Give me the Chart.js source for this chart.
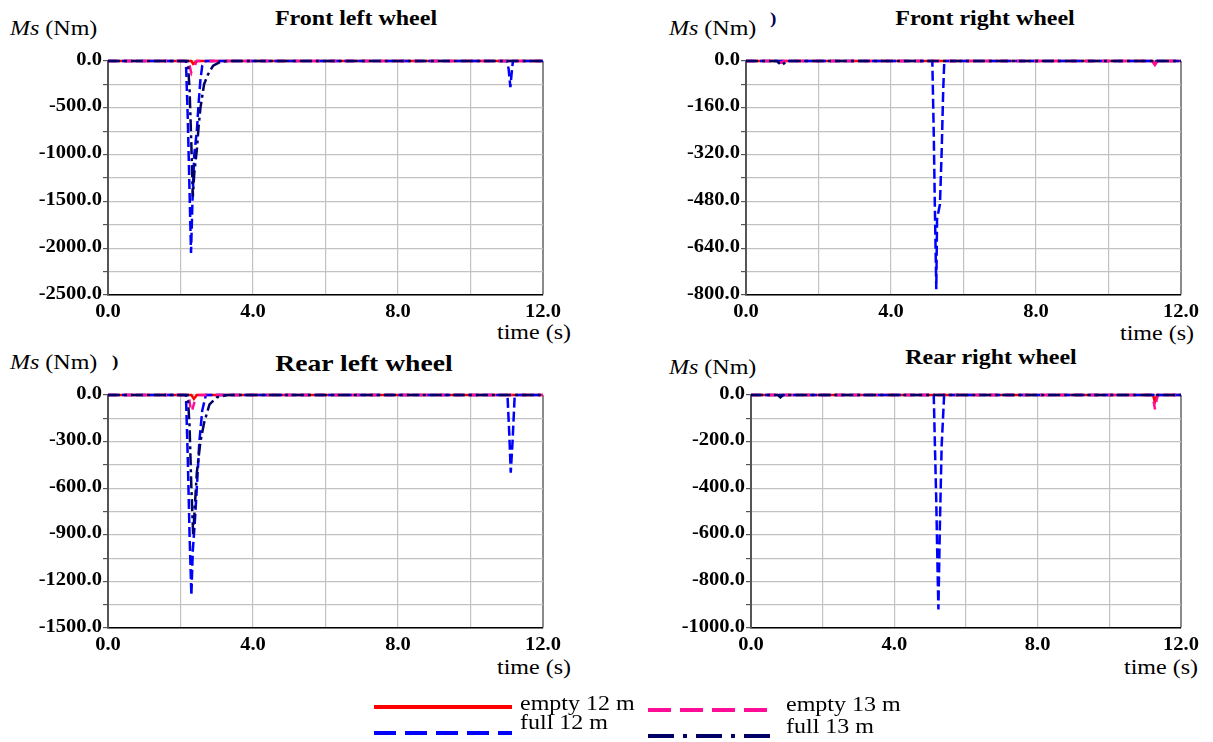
<!DOCTYPE html>
<html>
<head>
<meta charset="utf-8">
<title>Ms per wheel</title>
<script src="https://cdn.jsdelivr.net/npm/chart.js@4.4.1/dist/chart.umd.min.js"></script>
<style>
    body { margin: 0; background: #fff; }
    #page { position: relative; width: 1213px; height: 742px; overflow: hidden; font-family: "Liberation Serif", "Times New Roman", serif; color: #000; }
    .box { position: absolute; }
    .txt { position: absolute; white-space: nowrap; font-size: 20px; line-height: 20px; transform-origin: left center; transform: scaleX(1.2); }
    .title { position: absolute; white-space: nowrap; font-size: 20px; line-height: 20px; font-weight: bold; transform-origin: center center; transform: translateX(-50%) scaleX(1.2); }
</style>
</head>
<body>
<div id="page">
    <div class="title" style="left:356px; top:8px;">Front left wheel</div>
    <div class="title" style="left:985px; top:8px;">Front right wheel</div>
    <div class="title" style="left:364px; top:352px; font-size:23px; line-height:23px;">Rear left wheel</div>
    <div class="title" style="left:991px; top:347px;">Rear right wheel</div>

    <div class="txt" style="left:10px; top:18px;"><i>Ms</i> (Nm)</div>
    <div class="txt" style="left:669px; top:18px;"><i>Ms</i> (Nm)</div>
    <div class="txt" style="left:10px; top:352px;"><i>Ms</i> (Nm)</div>
    <div class="txt" style="left:669px; top:357px;"><i>Ms</i> (Nm)</div>
    <div class="txt" style="left:770px; top:9px; font-weight:bold; color:#000055; font-size:16px;">)</div>
    <div class="txt" style="left:112px; top:352px; font-weight:bold; font-size:16px;">)</div>

    <div class="txt" style="left:497px; top:322px;">time (s)</div>
    <div class="txt" style="left:1120px; top:323px;">time (s)</div>
    <div class="txt" style="left:497px; top:657px;">time (s)</div>
    <div class="txt" style="left:1124px; top:657px;">time (s)</div>

    <div class="box" style="left:3px; top:51px;"><canvas id="flChart" width="565" height="274"></canvas></div>
    <div class="box" style="left:641px; top:51px;"><canvas id="frChart" width="565" height="274"></canvas></div>
    <div class="box" style="left:3px; top:385px;"><canvas id="rlChart" width="565" height="273"></canvas></div>
    <div class="box" style="left:646px; top:385px;"><canvas id="rrChart" width="560" height="273"></canvas></div>

    <!-- legend -->
    <svg class="box" style="left:0; top:0;" width="1213" height="742">
        <line x1="374" y1="707" x2="512" y2="707" stroke="#ff0000" stroke-width="4"/>
        <line x1="374" y1="733" x2="512" y2="733" stroke="#0000ff" stroke-width="4" stroke-dasharray="22 9"/>
        <line x1="648" y1="710" x2="776" y2="710" stroke="#ff0c96" stroke-width="4" stroke-dasharray="23 9"/>
        <line x1="648" y1="736" x2="776" y2="736" stroke="#000066" stroke-width="4" stroke-dasharray="26 9 4 9"/>
    </svg>
    <div class="txt" style="left:520px; top:693px;">empty 12 m</div>
    <div class="txt" style="left:520px; top:712px;">full 12 m</div>
    <div class="txt" style="left:786px; top:694px;">empty 13 m</div>
    <div class="txt" style="left:786px; top:716px;">full 13 m</div>
</div>

<script>
// tick labels
const timeTicks = [0, 4, 8, 12];
const flTicks = [0, -500, -1000, -1500, -2000, -2500];
const frTicks = [0, -160, -320, -480, -640, -800];
const rlTicks = [0, -300, -600, -900, -1200, -1500];
const rrTicks = [0, -200, -400, -600, -800, -1000];

// front left wheel, [time (s), Ms (Nm)]
const flEmpty12 = [[0, 0], [2.3, 0], [2.35, -30], [2.45, 0], [12, 0]];
const flFull12 = [[0, 0], [2.15, 0], [2.2, -600], [2.25, -1400], [2.29, -2050], [2.33, -1500], [2.38, -1000], [2.45, -750], [2.5, -450], [2.55, -200], [2.6, -50], [2.7, 0], [11.0, 0], [11.05, -80], [11.08, -200], [11.1, -280], [11.13, -150], [11.17, 0], [12, 0]];
const flEmpty13 = [[0, 0], [2.22, 0], [2.3, -130], [2.38, -60], [2.45, 0], [12, 0]];
const flFull13 = [[0, 0], [2.2, 0], [2.25, -300], [2.3, -900], [2.34, -1450], [2.38, -1200], [2.45, -950], [2.5, -700], [2.55, -500], [2.65, -250], [2.75, -150], [2.9, -50], [3.1, -10], [3.3, 0], [12, 0]];

// front right wheel
const frEmpty12 = [[0, 0], [11.22, 0], [11.28, -8], [11.34, 0], [12, 0]];
const frFull12 = [[0, 0], [5.14, 0], [5.18, -250], [5.21, -500], [5.25, -780], [5.27, -540], [5.35, -490], [5.4, -300], [5.44, -100], [5.47, 0], [12, 0]];
const frEmpty13 = [[0, 0], [0.9, 0], [0.97, -6], [1.05, 0], [11.2, 0], [11.28, -14], [11.36, 0], [12, 0]];
const frFull13 = [[0, 0], [0.85, 0], [0.98, -15], [1.1, -3], [1.2, 0], [12, 0]];

// rear left wheel
const rlEmpty12 = [[0, 0], [2.3, 0], [2.37, -25], [2.45, 0], [12, 0]];
const rlFull12 = [[0, 0], [2.15, 0], [2.2, -400], [2.25, -900], [2.3, -1290], [2.34, -1000], [2.4, -800], [2.45, -600], [2.52, -300], [2.6, -100], [2.7, 0], [11.02, 0], [11.07, -250], [11.11, -500], [11.16, -300], [11.22, 0], [12, 0]];
const rlEmpty13 = [[0, 0], [2.22, 0], [2.3, -115], [2.38, -50], [2.45, 0], [12, 0]];
const rlFull13 = [[0, 0], [2.2, 0], [2.25, -200], [2.3, -600], [2.35, -900], [2.4, -700], [2.45, -500], [2.55, -300], [2.65, -180], [2.8, -60], [3.0, -15], [3.3, 0], [12, 0]];

// rear right wheel
const rrEmpty12 = [[0, 0], [11.22, 0], [11.27, -30], [11.33, 0], [12, 0]];
const rrFull12 = [[0, 0], [5.1, 0], [5.13, -200], [5.17, -450], [5.2, -700], [5.23, -920], [5.27, -570], [5.32, -220], [5.39, 0], [12, 0]];
const rrEmpty13 = [[0, 0], [11.2, 0], [11.25, -40], [11.28, -65], [11.32, -20], [11.36, 0], [12, 0]];
const rrFull13 = [[0, 0], [0.75, 0], [0.82, -10], [0.9, 0], [12, 0]];

document.addEventListener('DOMContentLoaded', function () {

    // Draws the bold tick labels a bit stretched, like the original figure
    const stretchLabels = {
        id: 'stretchLabels',
        afterDraw(chart, args, opts) {
            const ctx = chart.ctx;
            const xs = chart.scales.x;
            const ys = chart.scales.y;
            ctx.save();
            ctx.fillStyle = '#000';
            ctx.font = 'bold 18px "Liberation Serif"';
            ctx.textBaseline = 'middle';

            ctx.textAlign = 'right';
            opts.yLabels.forEach(v => {
                ctx.save();
                ctx.translate(xs.left - 6, ys.getPixelForValue(v) - 1);
                ctx.scale(1.14, 1);
                ctx.fillText(v.toFixed(1), 0, 0);
                ctx.restore();
            });

            ctx.textAlign = 'center';
            opts.xLabels.forEach(v => {
                ctx.save();
                ctx.translate(xs.getPixelForValue(v), ys.bottom + 17);
                ctx.scale(1.14, 1);
                ctx.fillText(v.toFixed(1), 0, 0);
                ctx.restore();
            });
            ctx.restore();
        }
    };

    function toPoints(pairs) {
        return pairs.map(p => ({ x: p[0], y: p[1] }));
    }

    function createChart(id, series, yTicks, minorStep) {
        const ctx = document.getElementById(id).getContext('2d');
        const yMin = yTicks[yTicks.length - 1];

        const datasets = [
            { label: 'empty 12 m', data: toPoints(series[0]), borderColor: '#ff0000', borderWidth: 2.5, order: 3 },
            { label: 'full 12 m', data: toPoints(series[1]), borderColor: '#0000ff', borderWidth: 2.5, borderDash: [10, 4], order: 2 },
            { label: 'empty 13 m', data: toPoints(series[2]), borderColor: '#ff0c96', borderWidth: 2.5, borderDash: [8, 9], order: 1 },
            { label: 'full 13 m', data: toPoints(series[3]), borderColor: '#000066', borderWidth: 2.5, borderDash: [12, 4, 3, 4], order: 0 }
        ];
        datasets.forEach(d => {
            d.pointRadius = 0;
            d.fill = false;
            d.tension = 0;
            d.clip = false;
        });

        return new Chart(ctx, {
            type: 'line',
            data: { datasets: datasets },
            options: {
                responsive: false,
                animation: false,
                devicePixelRatio: 1,
                layout: { padding: { top: 10, right: 25, left: 0, bottom: 0 } },
                plugins: {
                    legend: { display: false },
                    tooltip: { enabled: false },
                    stretchLabels: { yLabels: yTicks, xLabels: timeTicks }
                },
                scales: {
                    x: {
                        type: 'linear',
                        min: 0,
                        max: 12,
                        afterFit: scale => { scale.height = 30; },
                        ticks: { display: false, stepSize: 2 },
                        grid: {
                            color: c => (c.tick && c.tick.value === 12 ? '#8a8a8a' : '#c2c2c2'),
                            lineWidth: c => (c.tick && c.tick.value === 12 ? 2 : 1.2),
                            drawTicks: false
                        },
                        border: { color: '#000', width: 1.5 }
                    },
                    y: {
                        min: yMin,
                        max: 0,
                        afterFit: scale => { scale.width = 105; },
                        ticks: { display: false, stepSize: minorStep },
                        grid: { color: '#c2c2c2', lineWidth: 1.2, tickLength: 5, tickColor: '#555' },
                        border: { color: '#555', width: 2 }
                    }
                }
            },
            plugins: [stretchLabels]
        });
    }

    createChart('flChart', [flEmpty12, flFull12, flEmpty13, flFull13], flTicks, 250);
    createChart('frChart', [frEmpty12, frFull12, frEmpty13, frFull13], frTicks, 80);
    createChart('rlChart', [rlEmpty12, rlFull12, rlEmpty13, rlFull13], rlTicks, 150);
    createChart('rrChart', [rrEmpty12, rrFull12, rrEmpty13, rrFull13], rrTicks, 100);
});
</script>
</body>
</html>
